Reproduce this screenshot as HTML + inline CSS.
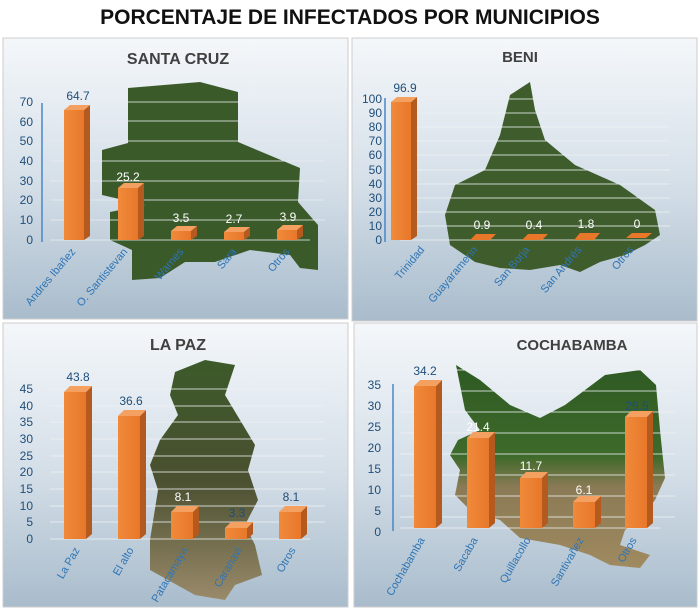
<!DOCTYPE html>
<html><head><meta charset="utf-8"><style>
body{margin:0;width:700px;height:609px;background:#fff;overflow:hidden;font-family:"Liberation Sans",sans-serif}
</style></head><body>
<svg width="700" height="609" viewBox="0 0 700 609" xmlns="http://www.w3.org/2000/svg" font-family="Liberation Sans, sans-serif">
<defs>
<linearGradient id="bg" x1="0" y1="0" x2="0" y2="1"><stop offset="0" stop-color="#f4f7fa"/><stop offset="0.5" stop-color="#d6e0e9"/><stop offset="1" stop-color="#a9bccc"/></linearGradient>
<linearGradient id="bar" x1="0" y1="0" x2="1" y2="0"><stop offset="0" stop-color="#f08a3a"/><stop offset="1" stop-color="#e8772a"/></linearGradient>
<linearGradient id="lp" x1="0" y1="0" x2="0" y2="1"><stop offset="0" stop-color="#3c5a2a"/><stop offset="0.5" stop-color="#4a5030"/><stop offset="1" stop-color="#9a8a6a"/></linearGradient>
<linearGradient id="cb" x1="0" y1="0" x2="0" y2="1"><stop offset="0" stop-color="#2e5a24"/><stop offset="0.45" stop-color="#3e6a2a"/><stop offset="0.6" stop-color="#8a7a55"/><stop offset="1" stop-color="#a08a60"/></linearGradient>
</defs>
<text x="350" y="24" text-anchor="middle" font-size="21" font-weight="bold" fill="#111">PORCENTAJE DE INFECTADOS POR MUNICIPIOS</text>
<rect x="3" y="38" width="345" height="281" fill="url(#bg)" stroke="#ccc"/>
<rect x="352" y="38" width="345" height="283" fill="url(#bg)" stroke="#ccc"/>
<rect x="3" y="323" width="345" height="284" fill="url(#bg)" stroke="#ccc"/>
<rect x="354" y="323" width="343" height="284" fill="url(#bg)" stroke="#ccc"/>

<!-- Santa Cruz -->
<text x="178" y="64" text-anchor="middle" font-size="16" font-weight="bold" fill="#404040">SANTA CRUZ</text>
<polygon points="128,88 200,82 238,92 238,142 300,168 298,202 318,225 318,270 300,268 290,255 250,250 215,262 185,262 160,278 132,280 132,250 110,240 110,212 145,205 102,195 102,150 128,143" fill="#3b5a2a"/>
<g stroke="#e8ecef" stroke-width="1" opacity="0.8">
<line x1="50" y1="102" x2="325" y2="102"/><line x1="50" y1="121" x2="325" y2="121"/><line x1="50" y1="141" x2="325" y2="141"/><line x1="50" y1="161" x2="325" y2="161"/><line x1="50" y1="181" x2="325" y2="181"/><line x1="50" y1="200" x2="325" y2="200"/><line x1="50" y1="220" x2="325" y2="220"/><line x1="50" y1="240" x2="310" y2="240"/></g>
<line x1="42" y1="103" x2="42" y2="242" stroke="#4a86c8" stroke-width="1.5"/>
<g font-size="12" fill="#1f4e79" text-anchor="end"><text x="33" y="106">70</text><text x="33" y="126">60</text><text x="33" y="145">50</text><text x="33" y="165">40</text><text x="33" y="185">30</text><text x="33" y="204">20</text><text x="33" y="224">10</text><text x="33" y="244">0</text></g>
<g id="b1"></g>
<g fill="url(#bar)">
<rect x="64" y="110" width="20" height="130"/><rect x="118" y="188" width="20" height="52"/><rect x="171" y="231" width="20" height="9"/><rect x="224" y="232" width="20" height="8"/><rect x="277" y="230" width="20" height="10"/></g>
<g fill="#b55a1e">
<polygon points="84,110 90,105 90,236 84,240"/><polygon points="138,188 144,183 144,236 138,240"/><polygon points="191,231 197,226 197,236 191,240"/><polygon points="244,232 250,227 250,236 244,240"/><polygon points="297,230 303,225 303,236 297,240"/></g>
<g fill="#f4a060"><polygon points="64,110 70,105 90,105 84,110"/><polygon points="118,188 124,183 144,183 138,188"/><polygon points="171,231 177,226 197,226 191,231"/><polygon points="224,232 230,227 250,227 244,232"/><polygon points="277,230 283,225 303,225 297,230"/></g>
<g font-size="12" text-anchor="middle"><text x="78" y="100" fill="#1f4e79">64.7</text><text x="128" y="181" fill="#fff">25.2</text><text x="181" y="222" fill="#fff">3.5</text><text x="234" y="223" fill="#fff">2.7</text><text x="288" y="221" fill="#fff">3.9</text></g>
<g font-size="11" fill="#2e75b6" text-anchor="end">
<text transform="translate(76,252) rotate(-50)">Andres Ibañez</text><text transform="translate(128,252) rotate(-50)">O. Santistevan</text><text transform="translate(184,252) rotate(-50)">Warnes</text><text transform="translate(237,252) rotate(-50)">Sara</text><text transform="translate(290,252) rotate(-50)">Otros</text></g>

<!-- Beni -->
<text x="520" y="62" text-anchor="middle" font-size="15" font-weight="bold" fill="#404040">BENI</text>
<polygon points="510,95 530,82 535,110 545,140 575,165 620,185 655,210 660,235 645,245 625,255 600,262 580,272 560,265 530,270 500,268 475,262 450,245 445,215 455,185 485,170 500,135" fill="#3e5c2c"/>
<g stroke="#eef1f3" stroke-width="1" opacity="0.8">
<line x1="400" y1="99" x2="670" y2="99"/><line x1="400" y1="113" x2="670" y2="113"/><line x1="400" y1="127" x2="670" y2="127"/><line x1="400" y1="141" x2="670" y2="141"/><line x1="400" y1="155" x2="670" y2="155"/><line x1="400" y1="170" x2="670" y2="170"/><line x1="400" y1="184" x2="670" y2="184"/><line x1="400" y1="198" x2="670" y2="198"/><line x1="400" y1="212" x2="670" y2="212"/><line x1="400" y1="226" x2="670" y2="226"/><line x1="400" y1="240" x2="660" y2="240"/></g>
<line x1="385" y1="98" x2="385" y2="242" stroke="#4a86c8" stroke-width="1.5"/>
<g font-size="12" fill="#1f4e79" text-anchor="end"><text x="382" y="103">100</text><text x="382" y="117">90</text><text x="382" y="131">80</text><text x="382" y="145">70</text><text x="382" y="159">60</text><text x="382" y="174">50</text><text x="382" y="188">40</text><text x="382" y="202">30</text><text x="382" y="216">20</text><text x="382" y="230">10</text><text x="382" y="244">0</text></g>
<rect x="391" y="102" width="20" height="138" fill="url(#bar)"/><polygon points="411,102 417,97 417,236 411,240" fill="#b55a1e"/><polygon points="391,102 397,97 417,97 411,102" fill="#f4a060"/>
<g fill="#e8772a"><polygon points="470,240 476,234 496,234 490,240"/><polygon points="522,240 528,234 548,234 542,240"/><polygon points="574,240 580,233 600,233 594,240"/><polygon points="626,238 632,233 652,233 646,238"/></g>
<g font-size="12" text-anchor="middle"><text x="405" y="92" fill="#1f4e79">96.9</text><text x="482" y="229" fill="#fff">0.9</text><text x="534" y="229" fill="#fff">0.4</text><text x="586" y="228" fill="#fff">1.8</text><text x="637" y="228" fill="#fff">0</text></g>
<g font-size="11" fill="#2e75b6" text-anchor="end">
<text transform="translate(425,250) rotate(-50)">Trinidad</text><text transform="translate(478,250) rotate(-50)">Guayaramerin</text><text transform="translate(530,250) rotate(-50)">San Borja</text><text transform="translate(582,250) rotate(-50)">San Andrés</text><text transform="translate(634,250) rotate(-50)">Otros</text></g>

<!-- La Paz -->
<text x="178" y="350" text-anchor="middle" font-size="16" font-weight="bold" fill="#404040">LA PAZ</text>
<polygon points="175,372 205,360 235,365 225,395 240,420 255,445 248,470 258,500 245,525 255,545 262,575 235,585 225,600 195,595 150,570 150,540 158,490 150,465 160,440 178,415 170,395" fill="url(#lp)"/>
<g stroke="#eef1f3" stroke-width="1" opacity="0.8">
<line x1="50" y1="389" x2="325" y2="389"/><line x1="50" y1="406" x2="325" y2="406"/><line x1="50" y1="422" x2="325" y2="422"/><line x1="50" y1="439" x2="325" y2="439"/><line x1="50" y1="456" x2="325" y2="456"/><line x1="50" y1="472" x2="325" y2="472"/><line x1="50" y1="489" x2="325" y2="489"/><line x1="50" y1="506" x2="325" y2="506"/><line x1="50" y1="522" x2="325" y2="522"/><line x1="50" y1="539" x2="310" y2="539"/></g>
<g font-size="12" fill="#1f4e79" text-anchor="end"><text x="33" y="393">45</text><text x="33" y="410">40</text><text x="33" y="426">35</text><text x="33" y="443">30</text><text x="33" y="460">25</text><text x="33" y="476">20</text><text x="33" y="493">15</text><text x="33" y="510">10</text><text x="33" y="526">5</text><text x="33" y="543">0</text></g>
<g fill="url(#bar)"><rect x="64" y="392" width="22" height="147"/><rect x="118" y="416" width="22" height="123"/><rect x="171" y="512" width="22" height="27"/><rect x="225" y="528" width="22" height="11"/><rect x="279" y="512" width="22" height="27"/></g>
<g fill="#b55a1e"><polygon points="86,392 92,386 92,534 86,539"/><polygon points="140,416 146,410 146,534 140,539"/><polygon points="193,512 199,506 199,534 193,539"/><polygon points="247,528 253,522 253,534 247,539"/><polygon points="301,512 307,506 307,534 301,539"/></g>
<g fill="#f4a060"><polygon points="64,392 70,386 92,386 86,392"/><polygon points="118,416 124,410 146,410 140,416"/><polygon points="171,512 177,506 199,506 193,512"/><polygon points="225,528 231,522 253,522 247,528"/><polygon points="279,512 285,506 307,506 301,512"/></g>
<g font-size="12" text-anchor="middle" fill="#1f4e79"><text x="78" y="381">43.8</text><text x="131" y="405">36.6</text><text x="183" y="501" fill="#fff">8.1</text><text x="237" y="517">3.3</text><text x="291" y="501">8.1</text></g>
<g font-size="11" fill="#2e75b6" text-anchor="end">
<text transform="translate(80,550) rotate(-60)">La Paz</text><text transform="translate(134,550) rotate(-60)">El alto</text><text transform="translate(188,550) rotate(-60)">Patacamaya</text><text transform="translate(242,550) rotate(-60)">Caranavi</text><text transform="translate(296,550) rotate(-60)">Otros</text></g>

<!-- Cochabamba -->
<text x="572" y="350" text-anchor="middle" font-size="15" font-weight="bold" fill="#404040">COCHABAMBA</text>
<polygon points="456,365 480,380 510,405 540,418 565,405 585,390 605,375 640,370 656,385 660,430 665,478 655,500 640,520 625,530 620,545 650,555 640,568 610,565 590,555 560,545 520,538 500,520 470,510 455,495 460,470 450,455 458,440 480,430 465,410" fill="url(#cb)"/>
<g stroke="#eef1f3" stroke-width="1" opacity="0.8">
<line x1="400" y1="370" x2="675" y2="370"/><line x1="400" y1="391" x2="675" y2="391"/><line x1="400" y1="412" x2="675" y2="412"/><line x1="400" y1="433" x2="675" y2="433"/><line x1="400" y1="454" x2="675" y2="454"/><line x1="400" y1="475" x2="675" y2="475"/><line x1="400" y1="496" x2="675" y2="496"/><line x1="400" y1="517" x2="675" y2="517"/><line x1="400" y1="528" x2="660" y2="528"/></g>
<line x1="393" y1="384" x2="393" y2="531" stroke="#4a86c8" stroke-width="1.5"/>
<g font-size="12" fill="#1f4e79" text-anchor="end"><text x="381" y="389">35</text><text x="381" y="410">30</text><text x="381" y="431">25</text><text x="381" y="452">20</text><text x="381" y="473">15</text><text x="381" y="494">10</text><text x="381" y="515">5</text><text x="381" y="536">0</text></g>
<g fill="url(#bar)"><rect x="414" y="386" width="22" height="142"/><rect x="467" y="438" width="22" height="90"/><rect x="520" y="478" width="22" height="50"/><rect x="573" y="502" width="22" height="26"/><rect x="625" y="417" width="22" height="111"/></g>
<g fill="#b55a1e"><polygon points="436,386 442,380 442,523 436,528"/><polygon points="489,438 495,432 495,523 489,528"/><polygon points="542,478 548,472 548,523 542,528"/><polygon points="595,502 601,496 601,523 595,528"/><polygon points="647,417 653,411 653,523 647,528"/></g>
<g fill="#f4a060"><polygon points="414,386 420,380 442,380 436,386"/><polygon points="467,438 473,432 495,432 489,438"/><polygon points="520,478 526,472 548,472 542,478"/><polygon points="573,502 579,496 601,496 595,502"/><polygon points="625,417 631,411 653,411 647,417"/></g>
<g font-size="12" text-anchor="middle" fill="#1f4e79"><text x="425" y="375">34.2</text><text x="478" y="431" fill="#fff">21.4</text><text x="531" y="470" fill="#fff">11.7</text><text x="584" y="494" fill="#fff">6.1</text><text x="637" y="410">26.5</text></g>
<g font-size="11" fill="#2e75b6" text-anchor="end">
<text transform="translate(425,540) rotate(-60)">Cochabamba</text><text transform="translate(478,540) rotate(-60)">Sacaba</text><text transform="translate(531,540) rotate(-60)">Quillacollo</text><text transform="translate(584,540) rotate(-60)">Santivañez</text><text transform="translate(637,540) rotate(-60)">Otros</text></g>
</svg>
</body></html>
